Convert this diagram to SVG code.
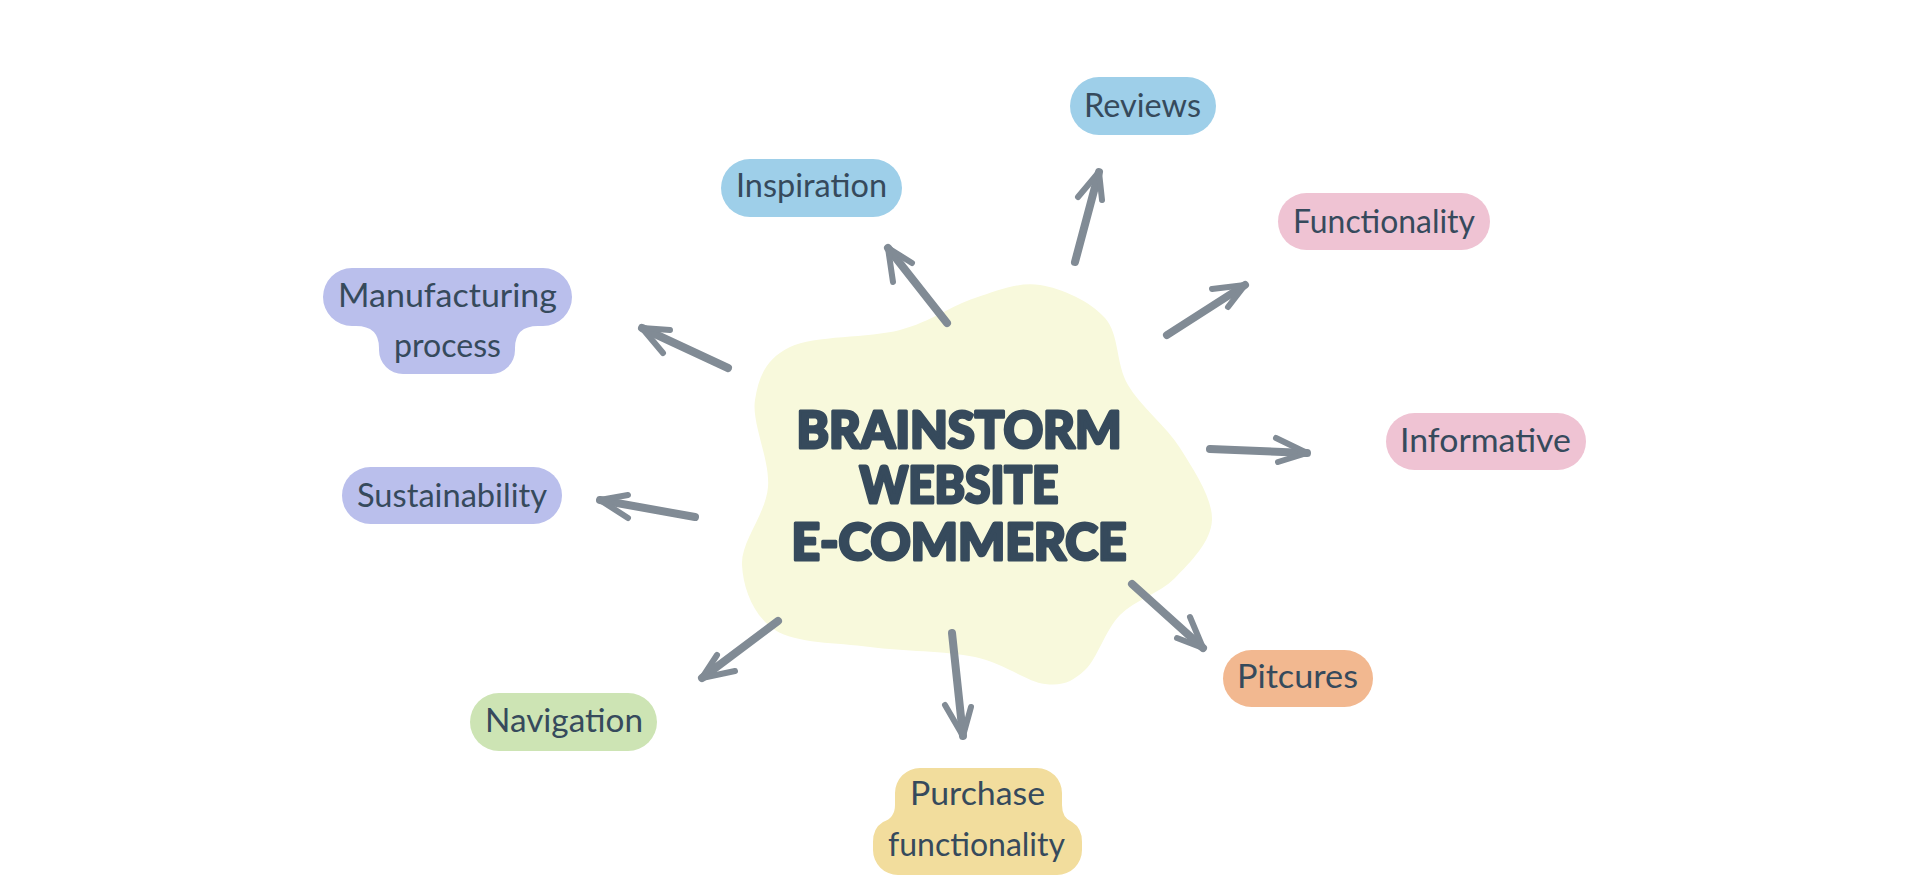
<svg xmlns="http://www.w3.org/2000/svg" width="1920" height="888" viewBox="0 0 1920 888">
<style>
.bg{fill:#ffffff}
.blob{fill:#f8f9dc}
.lbl{font-family:Lato,"Open Sans",sans-serif;font-size:32px;fill:#364a5c;text-anchor:middle}
.title{font-family:Lato,"Open Sans",sans-serif;font-weight:900;font-size:51px;fill:#364a5c;stroke:#364a5c;stroke-width:3;stroke-linejoin:round;text-anchor:middle}
.shaft{fill:none;stroke:#818b95;stroke-width:8;stroke-linecap:round;stroke-linejoin:round}
.head{fill:none;stroke:#818b95;stroke-width:6;stroke-linecap:round;stroke-linejoin:round}
.blue{fill:#9ecfe9}
.pink{fill:#efc3d3}
.lav{fill:#babfec}
.green{fill:#cde4b4}
.orange{fill:#f2b890}
.yellow{fill:#f2dd9d}
</style>
<rect class="bg" x="0" y="0" width="1920" height="888"/>
<g id="center">
<path class="blob" d="M1040 285 C1061.7 288.3 1090.3 301.3 1105 318 C1119.7 334.7 1115.5 363.3 1128 385 C1140.5 406.7 1166 425.5 1180 448 C1194 470.5 1212.8 498.3 1212 520 C1211.2 541.7 1190.3 562.2 1175 578 C1159.7 593.8 1135 599.7 1120 615 C1105 630.3 1097.5 658.5 1085 670 C1072.5 681.5 1063.3 686.2 1045 684 C1026.7 681.8 1004.2 663.2 975 657 C945.8 650.8 903.3 651.5 870 647 C836.7 642.5 796.3 643.7 775 630 C753.7 616.3 743.2 588.8 742 565 C740.8 541.2 765.8 514.5 768 487 C770.2 459.5 751.3 423.3 755 400 C758.7 376.7 765.8 358.7 790 347 C814.2 335.3 869.2 338.2 900 330 C930.8 321.8 951.7 305.5 975 298 C998.3 290.5 1018.3 281.7 1040 285 Z"/>
<text class="title" x="959" y="448" textLength="325" lengthAdjust="spacingAndGlyphs">BRAINSTORM</text>
<text class="title" x="959" y="503" textLength="199" lengthAdjust="spacingAndGlyphs">WEBSITE</text>
<text class="title" x="959" y="560" textLength="335" lengthAdjust="spacingAndGlyphs">E-COMMERCE</text>
</g>
<g id="connectors">
<path class="shaft" d="M947 323 L888 248"/><path class="head" d="M893 282 L888 248 L912 263"/>
<path class="shaft" d="M1075 262 L1099 172"/><path class="head" d="M1078 197 L1099 172 L1102 200"/>
<path class="shaft" d="M1167 335 L1245 285"/><path class="head" d="M1212 289 L1245 285 L1228 307"/>
<path class="shaft" d="M1210 449 L1307 453"/><path class="head" d="M1276 438 L1307 453 L1278 462"/>
<path class="shaft" d="M728 368 L642 328"/><path class="head" d="M670 330 L642 328 L663 353"/>
<path class="shaft" d="M695 517 L600 500"/><path class="head" d="M628 495 L600 500 L628 518"/>
<path class="shaft" d="M778 621 L702 678"/><path class="head" d="M717 655 L702 678 L735 671"/>
<path class="shaft" d="M952 633 L963 736"/><path class="head" d="M945 705 L963 736 L971 707"/>
<path class="shaft" d="M1132 584 L1203 648"/><path class="head" d="M1177 638 L1203 648 L1190 617"/>
</g>
<g id="reviews"><rect class="blue" x="1070" y="77" width="146" height="58" rx="29"/><text class="lbl" x="1142.5" y="117" textLength="117" lengthAdjust="spacingAndGlyphs">Reviews</text></g>
<g id="inspiration"><rect class="blue" x="721" y="159" width="181" height="58" rx="29"/><text class="lbl" x="811.5" y="197" textLength="151" lengthAdjust="spacingAndGlyphs">Inspiration</text></g>
<g id="functionality"><rect class="pink" x="1278" y="193" width="212" height="57" rx="28.5"/><text class="lbl" x="1384" y="233" textLength="182" lengthAdjust="spacingAndGlyphs">Functionality</text></g>
<g id="informative"><rect class="pink" x="1386" y="413" width="200" height="57" rx="28.5"/><text class="lbl" x="1485.5" y="452" textLength="171" lengthAdjust="spacingAndGlyphs">Informative</text></g>
<g id="manufacturing"><path class="lav" d="M352 268 H543 A29 29 0 0 1 543 326 H538 Q515 326 515 348 V350 A24 24 0 0 1 491 374 H403 A24 24 0 0 1 379 350 V348 Q379 326 356 326 H352 A29 29 0 0 1 352 268 Z"/><text class="lbl" x="447.5" y="307" textLength="219" lengthAdjust="spacingAndGlyphs">Manufacturing</text><text class="lbl" x="447.5" y="357" textLength="107" lengthAdjust="spacingAndGlyphs">process</text></g>
<g id="sustainability"><rect class="lav" x="342" y="467" width="220" height="57" rx="28.5"/><text class="lbl" x="452" y="507" textLength="190" lengthAdjust="spacingAndGlyphs">Sustainability</text></g>
<g id="navigation"><rect class="green" x="470" y="693" width="187" height="58" rx="29"/><text class="lbl" x="564" y="732" textLength="158" lengthAdjust="spacingAndGlyphs">Navigation</text></g>
<g id="pitcures"><rect class="orange" x="1223" y="650" width="150" height="57" rx="28.5"/><text class="lbl" x="1297.5" y="688" textLength="121" lengthAdjust="spacingAndGlyphs">Pitcures</text></g>
<g id="purchase"><path class="yellow" d="M920 768 H1037 A25 25 0 0 1 1062 793 V805 Q1062 818 1072 822 Q1082 828 1082 842 V850 A25 25 0 0 1 1057 875 H898 A25 25 0 0 1 873 850 V842 Q873 828 883 822 Q895 818 895 805 V793 A25 25 0 0 1 920 768 Z"/><text class="lbl" x="977.5" y="805" textLength="135" lengthAdjust="spacingAndGlyphs">Purchase</text><text class="lbl" x="976.5" y="856" textLength="177" lengthAdjust="spacingAndGlyphs">functionality</text></g>
</svg>
